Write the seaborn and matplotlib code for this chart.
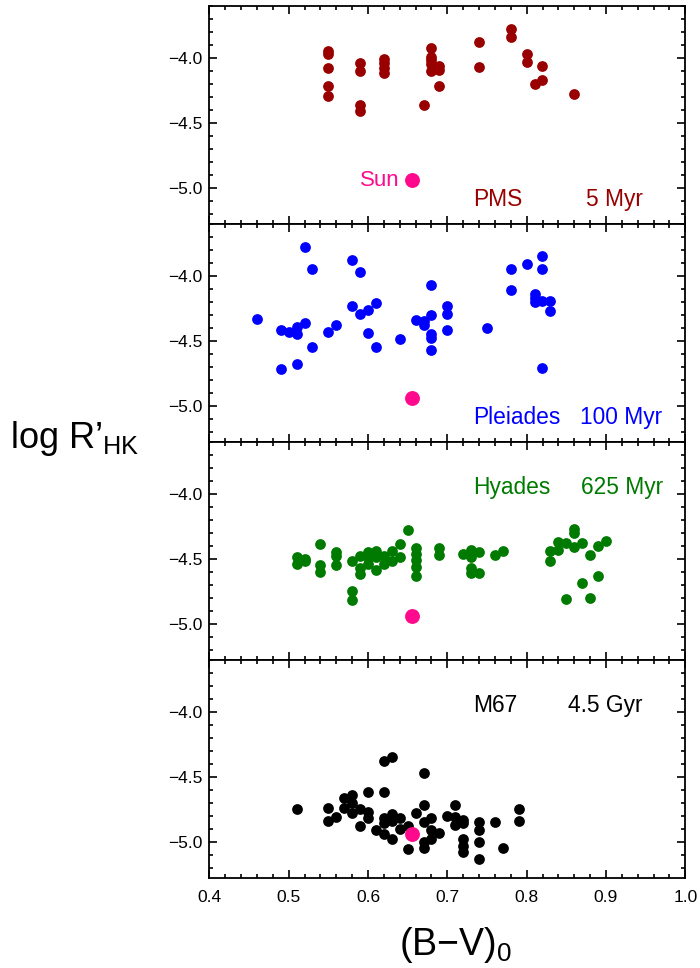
import numpy as np
import pandas as pd
import matplotlib
matplotlib.use("Agg")
import matplotlib.pyplot as plt
from matplotlib.ticker import MultipleLocator
import seaborn as sns

# -------------------------
# Data (B-V colour, log R'HK)
# -------------------------
pms_bv = [0.55, 0.55, 0.55, 0.55, 0.55,
          0.59, 0.59, 0.59, 0.59,
          0.62, 0.62, 0.62, 0.62,
          0.67,
          0.68, 0.68, 0.68, 0.68, 0.68,
          0.69, 0.69, 0.69,
          0.74, 0.74,
          0.78, 0.78,
          0.80, 0.80,
          0.81,
          0.82, 0.82,
          0.86]
pms_logr = [-3.95, -3.97, -4.08, -4.22, -4.29,
            -4.04, -4.10, -4.36, -4.41,
            -4.01, -4.04, -4.08, -4.12,
            -4.36,
            -3.92, -3.99, -4.02, -4.05, -4.10,
            -4.06, -4.09, -4.22,
            -3.88, -4.07,
            -3.78, -3.84,
            -3.97, -4.03,
            -4.20,
            -4.06, -4.17,
            -4.28]

ple_bv = [0.46,
          0.49, 0.49,
          0.50,
          0.51, 0.51, 0.51,
          0.52, 0.52,
          0.53, 0.53,
          0.55, 0.56,
          0.58, 0.58,
          0.59, 0.59,
          0.60, 0.60,
          0.61, 0.61,
          0.64, 0.66,
          0.67, 0.67,
          0.68, 0.68, 0.68, 0.68, 0.68,
          0.70, 0.70, 0.70,
          0.75,
          0.78, 0.78,
          0.80,
          0.81, 0.81, 0.81,
          0.82, 0.82, 0.82, 0.82,
          0.83, 0.83]
ple_logr = [-4.33,
            -4.42, -4.72,
            -4.43,
            -4.39, -4.45, -4.68,
            -3.78, -4.36,
            -3.95, -4.55,
            -4.43, -4.38,
            -3.88, -4.23,
            -3.97, -4.29,
            -4.26, -4.44,
            -4.21, -4.55,
            -4.49, -4.34,
            -4.35, -4.38,
            -4.07, -4.30, -4.45, -4.48, -4.57,
            -4.23, -4.29, -4.42,
            -4.40,
            -3.95, -4.11,
            -3.91,
            -4.14, -4.17, -4.20,
            -3.85, -3.95, -4.19, -4.71,
            -4.19, -4.27]

hya_bv = [0.51, 0.51,
          0.52, 0.52,
          0.54, 0.54, 0.54,
          0.56, 0.56, 0.56,
          0.58, 0.58, 0.58,
          0.59, 0.59, 0.59,
          0.60, 0.60, 0.60,
          0.61, 0.61, 0.61,
          0.62, 0.62,
          0.63, 0.63,
          0.64, 0.64,
          0.65,
          0.66, 0.66, 0.66, 0.66, 0.66,
          0.69, 0.69,
          0.72,
          0.73, 0.73, 0.73, 0.73,
          0.74, 0.74,
          0.76, 0.77,
          0.83, 0.83,
          0.84, 0.84,
          0.85, 0.85,
          0.86, 0.86, 0.86,
          0.87, 0.87,
          0.88, 0.88,
          0.89, 0.89,
          0.90]
hya_logr = [-4.49, -4.54,
            -4.50, -4.52,
            -4.39, -4.55, -4.60,
            -4.45, -4.48, -4.55,
            -4.52, -4.75, -4.82,
            -4.48, -4.57, -4.62,
            -4.45, -4.49, -4.54,
            -4.44, -4.49, -4.59,
            -4.48, -4.54,
            -4.44, -4.52,
            -4.39, -4.49,
            -4.28,
            -4.42, -4.46, -4.51, -4.56, -4.63,
            -4.42, -4.47,
            -4.46,
            -4.43, -4.49, -4.57, -4.61,
            -4.45, -4.61,
            -4.47, -4.44,
            -4.44, -4.52,
            -4.37, -4.43,
            -4.38, -4.81,
            -4.27, -4.30, -4.41,
            -4.38, -4.69,
            -4.47, -4.80,
            -4.40, -4.63,
            -4.36]

m67_bv = [0.51,
          0.55, 0.55,
          0.56,
          0.57, 0.57,
          0.58, 0.58, 0.58,
          0.59, 0.59,
          0.60, 0.60, 0.60,
          0.61,
          0.62, 0.62, 0.62, 0.62, 0.62,
          0.63, 0.63, 0.63, 0.63,
          0.64, 0.64,
          0.65, 0.65,
          0.66,
          0.67, 0.67, 0.67, 0.67, 0.67,
          0.68, 0.68, 0.68,
          0.69,
          0.70,
          0.71, 0.71, 0.71,
          0.72, 0.72, 0.72, 0.72, 0.72,
          0.74, 0.74, 0.74, 0.74,
          0.76,
          0.77,
          0.79, 0.79]
m67_logr = [-4.75,
            -4.74, -4.84,
            -4.81,
            -4.66, -4.74,
            -4.64, -4.70, -4.78,
            -4.75, -4.88,
            -4.62, -4.77, -4.82,
            -4.91,
            -4.38, -4.62, -4.82, -4.86, -4.94,
            -4.35, -4.79, -4.84, -4.98,
            -4.82, -4.90,
            -4.88, -5.06,
            -4.78,
            -4.47, -4.72, -4.85, -5.00, -5.05,
            -4.82, -4.91, -4.98,
            -4.93,
            -4.80,
            -4.72, -4.81, -4.87,
            -4.83, -4.86, -4.98, -5.03, -5.08,
            -4.85, -4.91, -5.00, -5.13,
            -4.85,
            -5.05,
            -4.75, -4.84]

sun_bv = 0.656
sun_logr = -4.94

names = ["PMS", "Pleiades", "Hyades", "M67"]
ages = ["5 Myr", "100 Myr", "625 Myr", "4.5 Gyr"]
colors = ["#990000", "#0000ff", "#007a00", "#000000"]
all_bv = [pms_bv, ple_bv, hya_bv, m67_bv]
all_logr = [pms_logr, ple_logr, hya_logr, m67_logr]
label_y = [-5.145, -5.145, -4.0, -4.0]
age_x = [0.875, 0.867, 0.869, 0.852]

# -------------------------
# Style
# -------------------------
sns.set_style("ticks")
plt.rcParams["font.family"] = ["Liberation Sans", "DejaVu Sans"]
plt.rcParams["mathtext.fontset"] = "custom"
plt.rcParams["mathtext.rm"] = "Liberation Sans"
plt.rcParams["mathtext.it"] = "Liberation Sans"
plt.rcParams["text.color"] = "black"
plt.rcParams["xtick.color"] = "black"
plt.rcParams["ytick.color"] = "black"

fig, axes = plt.subplots(4, 1, figsize=(7, 9.68), dpi=100, sharex=True)
fig.subplots_adjust(left=0.299, right=0.979, top=0.9938, bottom=0.093, hspace=0)

for i, ax in enumerate(axes):
    df = pd.DataFrame({"bv": all_bv[i], "logr": all_logr[i]})
    sns.scatterplot(data=df, x="bv", y="logr", ax=ax, color=colors[i],
                    s=60, linewidth=0, legend=False, zorder=3)
    ax.scatter([sun_bv], [sun_logr], s=115, color="#ff0a8c", linewidth=0, zorder=4)

    ax.text(0.732, label_y[i], names[i], color=colors[i], fontsize=16.4, va="baseline")
    ax.text(age_x[i], label_y[i], ages[i], color=colors[i], fontsize=16.4, va="baseline")

    ax.set_xlim(0.4, 1.0)
    ax.set_ylim(-5.28, -3.6)
    ax.set_xlabel("")
    ax.set_ylabel("")
    ax.xaxis.set_major_locator(MultipleLocator(0.1))
    ax.xaxis.set_minor_locator(MultipleLocator(0.02))
    ax.set_yticks([-4.0, -4.5, -5.0])
    ax.yaxis.set_minor_locator(MultipleLocator(0.1))
    ax.tick_params(which="both", direction="in", top=True, right=True,
                   width=1.2, labelsize=12.5, colors="black")
    ax.tick_params(which="major", length=6)
    ax.tick_params(which="minor", length=3)
    ax.tick_params(axis="y", pad=5)
    ax.tick_params(axis="x", pad=9)
    for sp in ax.spines.values():
        sp.set_linewidth(1.3)
        sp.set_color("black")

axes[0].text(0.64, -4.99, "Sun", color="#ff0a8c", fontsize=16,
             ha="right", va="baseline")

fig.text(0.107, 0.5475, "log R’$_{\\rm HK}$", fontsize=26, ha="center", va="center")
fig.text(0.651, 0.0238, "(B−V)$_0$", fontsize=27, ha="center", va="center")

plt.savefig("out.png", dpi=100)
plt.close()
